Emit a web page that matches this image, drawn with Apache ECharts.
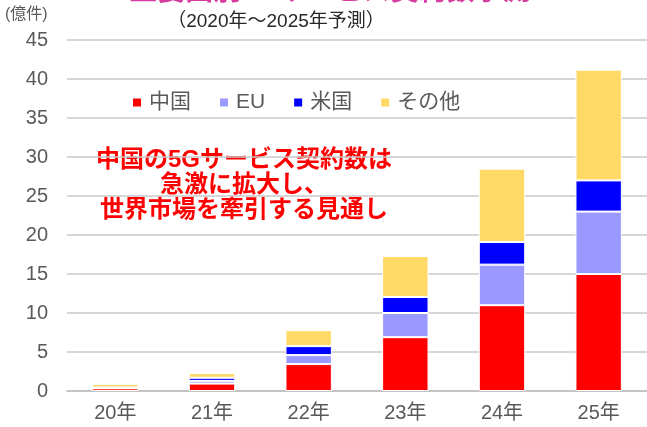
<!DOCTYPE html>
<html>
<head>
<meta charset="utf-8">
<script src="https://cdn.jsdelivr.net/npm/echarts@6/dist/echarts.min.js"></script>
<style>
  html, body { margin: 0; padding: 0; background: #fff; }
  #chart { width: 647px; height: 427px; }
</style>
</head>
<body>
<div id="chart"></div>
<script>
// 主要国別5Gサービス契約数（億件）
var years = ['20年', '21年', '22年', '23年', '24年', '25年'];
var china = [0.35, 0.95, 3.45, 6.9, 11.0, 15.0];
var eu = [0.05, 0.35, 1.15, 3.1, 5.2, 8.0];
var usa = [0.05, 0.4, 1.15, 2.05, 2.9, 4.0];
var others = [0.45, 0.6, 2.05, 5.25, 9.4, 14.2];
var yTicks = [0, 5, 10, 15, 20, 25, 30, 35, 40, 45];

var font = '"Liberation Sans", "Noto Sans CJK JP", sans-serif';
var chart = echarts.init(document.getElementById('chart'));

function barSeries(name, data, color) {
    return {
        name: name,
        type: 'bar',
        stack: 'total',
        barWidth: '48%',
        data: data,
        itemStyle: { color: color, borderColor: '#fff', borderWidth: 1 }
    };
}

var option = {
    animation: false,
    textStyle: { fontFamily: font },
    grid: { left: 67, right: 0, top: 40, bottom: 36 },
    legend: {
        left: 126, top: 87,
        icon: 'rect', itemWidth: 10, itemHeight: 10, itemGap: 27,
        textStyle: { fontSize: 21, color: '#595959', fontFamily: font, padding: [0, 0, 0, 2] },
        data: ['中国', 'EU', '米国', 'その他']
    },
    xAxis: {
        type: 'category',
        data: years,
        axisLine: { lineStyle: { color: '#bfbfbf', width: 1.5 } },
        axisTick: { show: false },
        axisLabel: { fontSize: 20, color: '#595959', margin: 12, fontFamily: font }
    },
    yAxis: {
        type: 'value',
        min: yTicks[0], max: yTicks[yTicks.length - 1], interval: 5,
        axisLine: { show: false },
        axisTick: { show: false },
        splitLine: { lineStyle: { color: '#c8c8c8', width: 1.5 } },
        axisLabel: { fontSize: 20, color: '#595959', margin: 19, fontFamily: font }
    },
    series: [
        barSeries('中国', china, '#ff0000'),
        barSeries('EU', eu, '#9999ff'),
        barSeries('米国', usa, '#0000ff'),
        barSeries('その他', others, '#ffd966')
    ],
    graphic: [
        {   // 見切れたタイトル
            type: 'text', x: 330, y: 6,
            style: {
                text: '主要国別5Gサービス契約数予測', fill: '#d63ca0',
                font: 'bold 28px ' + font, textAlign: 'center', textVerticalAlign: 'bottom'
            }
        },
        {
            type: 'text', x: 276, y: 22,
            style: {
                text: '（2020年～2025年予測）', fill: '#262626',
                font: '19px ' + font, textAlign: 'center', textVerticalAlign: 'middle'
            }
        },
        {
            type: 'text', x: 5, y: 15,
            style: {
                text: '(億件)', fill: '#595959',
                font: '16px ' + font, textAlign: 'left', textVerticalAlign: 'middle'
            }
        },
        {
            type: 'text', x: 244, y: 185,
            style: {
                text: '中国の5Gサービス契約数は\n急激に拡大し、\n世界市場を牽引する見通し',
                fill: '#ff0000', font: 'bold 24px ' + font, lineHeight: 25,
                textAlign: 'center', textVerticalAlign: 'middle'
            }
        }
    ]
};

chart.setOption(option);
</script>
</body>
</html>
